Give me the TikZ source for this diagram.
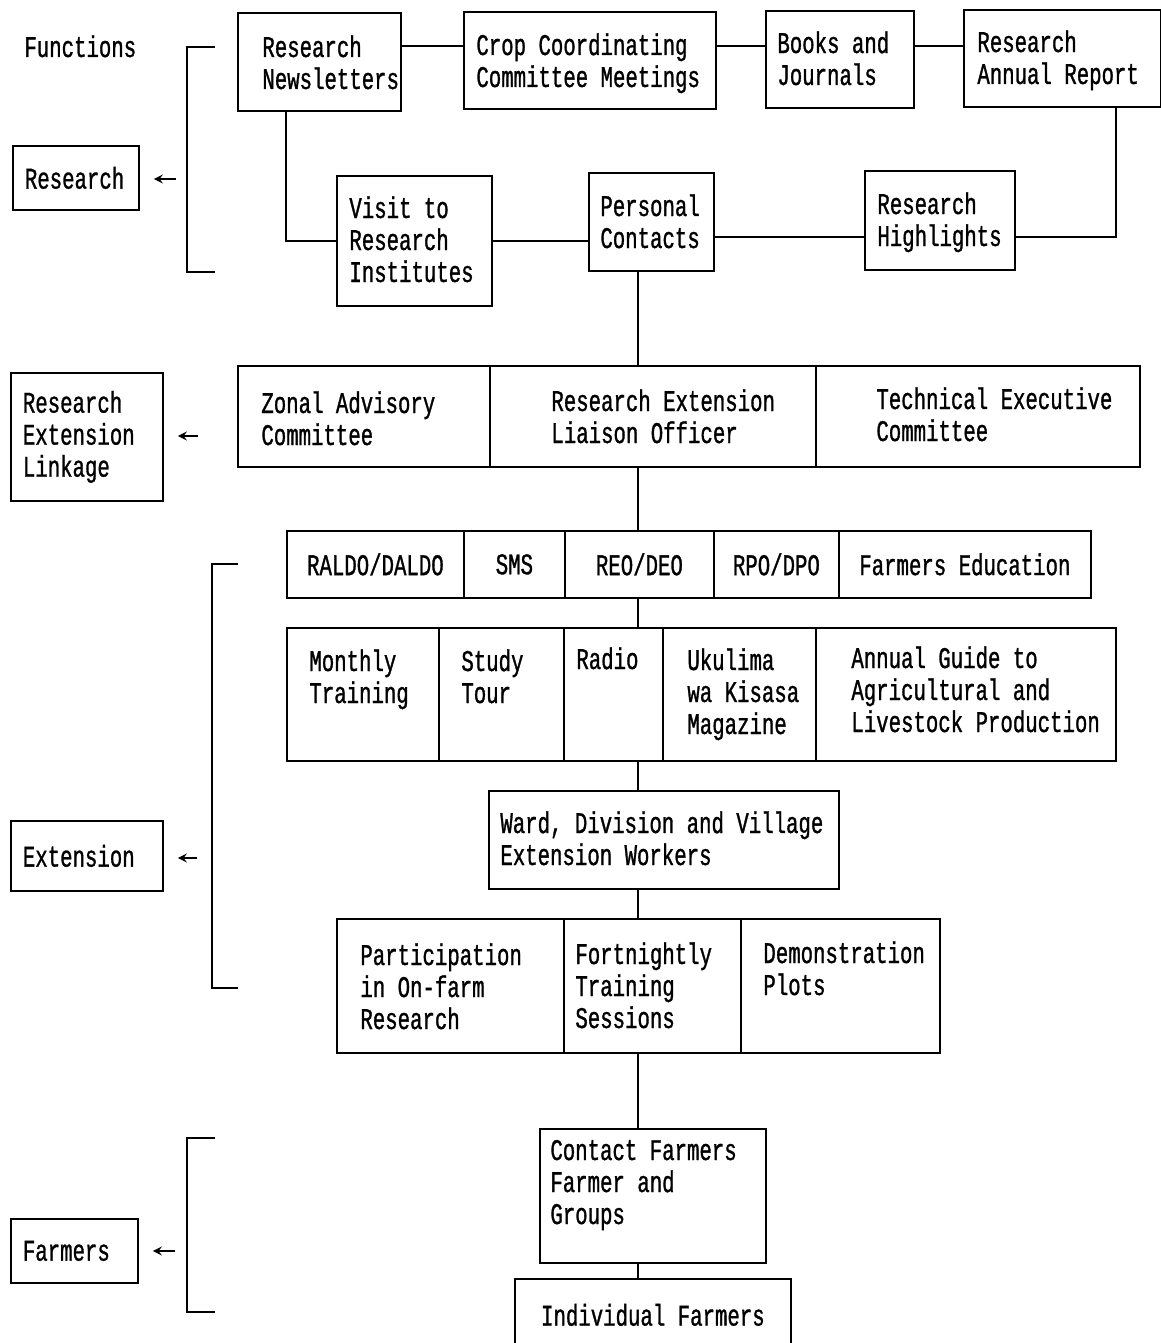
\documentclass[tikz,border=0pt]{standalone}
\usepackage{fontspec}
\newfontfamily\chartfont[FakeStretch=0.69,FakeBold=1]{Liberation Mono}
\newcommand{\chartsize}{\chartfont\fontsize{15}{16}\selectfont}
\usepackage{tikz}
\usetikzlibrary{positioning}
\usetikzlibrary{arrows,shapes}
\usetikzlibrary{calc}

\tikzset{
 cell/.style={draw, line width=0.9pt, inner sep=0pt, anchor=north west, font=\chartsize},
 lbl/.style={font=\chartsize, align=left, anchor=base west, inner sep=0pt},
 fnbox/.style={draw, line width=0.9pt, inner xsep=6pt, inner ysep=0pt, anchor=north west, align=left, font=\chartsize},
 link/.style={line width=0.9pt},
 fnarrow/.style={->, >=stealth, line width=1pt, shorten >=7pt},
}

\begin{document}
\begin{tikzpicture}[x=0.5pt, y=-0.5pt]
 \useasboundingbox (0,0) rectangle (1161,1343);

 %functions
 \node[lbl] (fn) at (24,57) {Functions};
 \node[fnbox, text width=51pt, minimum height=32pt] (research) at (12,145) {Research};
 \node[fnbox, text width=64pt, minimum height=64pt] (linkage) at (10,372) {Research\\Extension\\Linkage};
 \node[fnbox, text width=64pt, minimum height=35pt] (extension) at (10,820) {Extension};
 \node[fnbox, text width=51.5pt, minimum height=32pt] (farmers) at (10,1218) {Farmers};

 %brackets
 \draw[link] (215,47) -- (187,47) -- (187,272) -- (215,272);
 \draw[link] (238,564) -- (212,564) -- (212,988) -- (238,988);
 \draw[link] (215,1138) -- (187,1138) -- (187,1312) -- (215,1312);

 %arrows
 \coordinate (resfrom) at (176,179);
 \coordinate (linkfrom) at (198,436);
 \coordinate (extfrom) at (197,858);
 \coordinate (farmfrom) at (175,1251);
 \draw[fnarrow] (resfrom) -- (resfrom -| research.east);
 \draw[fnarrow] (linkfrom) -- (linkfrom -| linkage.east);
 \draw[fnarrow] (extfrom) -- (extfrom -| extension.east);
 \draw[fnarrow] (farmfrom) -- (farmfrom -| farmers.east);

 %row1 (text placed at the baseline of its last line)
 \node[cell, minimum width=81.5pt, minimum height=49pt] (rn) at (237,12) {};
 \node[cell, minimum width=126pt, minimum height=48.5pt] (ccc) at (463,11) {};
 \node[cell, minimum width=74pt, minimum height=48.5pt] (bj) at (765,10) {};
 \node[cell, minimum width=98.5pt, minimum height=48.5pt] (rar) at (963,9) {};
 \node[lbl] (rnt) at (262,89) {Research\\Newsletters};
 \node[lbl] (ccct) at (476,87) {Crop Coordinating\\Committee Meetings};
 \node[lbl] (bjt) at (777,85) {Books and\\Journals};
 \node[lbl] (rart) at (977,84) {Research\\Annual Report};

 %row2
 \node[cell, minimum width=77.5pt, minimum height=65pt] (visit) at (336,175) {};
 \node[cell, minimum width=62.5pt, minimum height=49pt] (pc) at (588,172) {};
 \node[cell, minimum width=75pt, minimum height=49.5pt] (rh) at (864,170) {};
 \node[lbl] (visitt) at (349,282) {Visit to\\Research\\Institutes};
 \node[lbl] (pct) at (600,248) {Personal\\Contacts};
 \node[lbl] (rht) at (877,246) {Research\\Highlights};

 %lines research
 \coordinate (toprow) at (0,46);
 \coordinate (midrow) at (0,237);
 \coordinate (rnleg) at (286,0);
 \coordinate (rarleg) at (1116,0);
 \coordinate (spine) at (638,0);
 \draw[link] (rn.east |- toprow) -- (ccc.west |- toprow);
 \draw[link] (ccc.east |- toprow) -- (bj.west |- toprow);
 \draw[link] (bj.east |- toprow) -- (rar.west |- toprow);
 \draw[link] (rn.south -| rnleg) |- (visit.west);
 \draw[link] (visit.east) -- (visit.east -| pc.west);
 \draw[link] (pc.east |- midrow) -- (rh.west |- midrow);
 \draw[link] (rh.east |- midrow) -| (rar.south -| rarleg);

 %linkage row
 \node[cell, minimum width=126pt, minimum height=50.5pt] (zac) at (237,365) {};
 \node[cell, minimum width=163pt, minimum height=50.5pt] (relo) at (489,365) {};
 \node[cell, minimum width=162pt, minimum height=50.5pt] (tec) at (815,365) {};
 \node[lbl] (zact) at (261,445) {Zonal Advisory\\Committee};
 \node[lbl] (relot) at (551,443) {Research Extension\\Liaison Officer};
 \node[lbl] (tect) at (876,441) {Technical Executive\\Committee};

 %officers row
 \node[cell, minimum width=88.5pt, minimum height=33.5pt] (raldo) at (286,530) {RALDO/DALDO};
 \node[cell, minimum width=50.5pt, minimum height=33.5pt] (sms) at (463,530) {SMS};
 \node[cell, minimum width=74.5pt, minimum height=33.5pt] (reo) at (564,530) {REO/DEO};
 \node[cell, minimum width=62.5pt, minimum height=33.5pt] (rpo) at (713,530) {RPO/DPO};
 \node[cell, minimum width=126pt, minimum height=33.5pt] (fed) at (838,530) {Farmers Education};

 %media row
 \node[cell, minimum width=76pt, minimum height=66.5pt] (mon) at (286,627) {};
 \node[cell, minimum width=62.5pt, minimum height=66.5pt] (study) at (438,627) {};
 \node[cell, minimum width=49.5pt, minimum height=66.5pt] (radio) at (563,627) {};
 \node[cell, minimum width=76.5pt, minimum height=66.5pt] (uku) at (662,627) {};
 \node[cell, minimum width=150pt, minimum height=66.5pt] (guide) at (815,627) {};
 \node[lbl] (mont) at (309,703) {Monthly\\Training};
 \node[lbl] (studyt) at (461,703) {Study\\Tour};
 \node[lbl] (radiot) at (576,669) {Radio};
 \node[lbl] (ukut) at (687,734) {Ukulima\\wa Kisasa\\Magazine};
 \node[lbl] (guidet) at (851,732) {Annual Guide to\\Agricultural and\\Livestock Production};

 %workers
 \node[cell, minimum width=175pt, minimum height=49pt] (ward) at (488,790) {};
 \node[lbl] (wardt) at (500,865) {Ward, Division and Village\\Extension Workers};

 %methods row
 \node[cell, minimum width=113.5pt, minimum height=67pt] (part) at (336,918) {};
 \node[cell, minimum width=88.5pt, minimum height=67pt] (fort) at (563,918) {};
 \node[cell, minimum width=99.5pt, minimum height=67pt] (demo) at (740,918) {};
 \node[lbl] (partt) at (360,1029) {Participation\\in On-farm\\Research};
 \node[lbl] (fortt) at (575,1028) {Fortnightly\\Training\\Sessions};
 \node[lbl] (demot) at (763,995) {Demonstration\\Plots};

 %farmers
 \node[cell, minimum width=113pt, minimum height=67pt] (contact) at (539,1128) {};
 \node[lbl] (contactt) at (550,1224) {Contact Farmers\\Farmer and\\Groups};
 \node[cell, minimum width=138pt, minimum height=36pt] (indiv) at (514,1278) {Individual Farmers};

 %spine
 \draw[link] (pc.south -| spine) -- (relo.north -| spine);
 \draw[link] (relo.south -| spine) -- (reo.north -| spine);
 \draw[link] (reo.south -| spine) -- (radio.north -| spine);
 \draw[link] (radio.south -| spine) -- (ward.north -| spine);
 \draw[link] (ward.south -| spine) -- (fort.north -| spine);
 \draw[link] (fort.south -| spine) -- (contact.north -| spine);
 \draw[link] (contact.south -| spine) -- (indiv.north -| spine);
\end{tikzpicture}
\end{document}
